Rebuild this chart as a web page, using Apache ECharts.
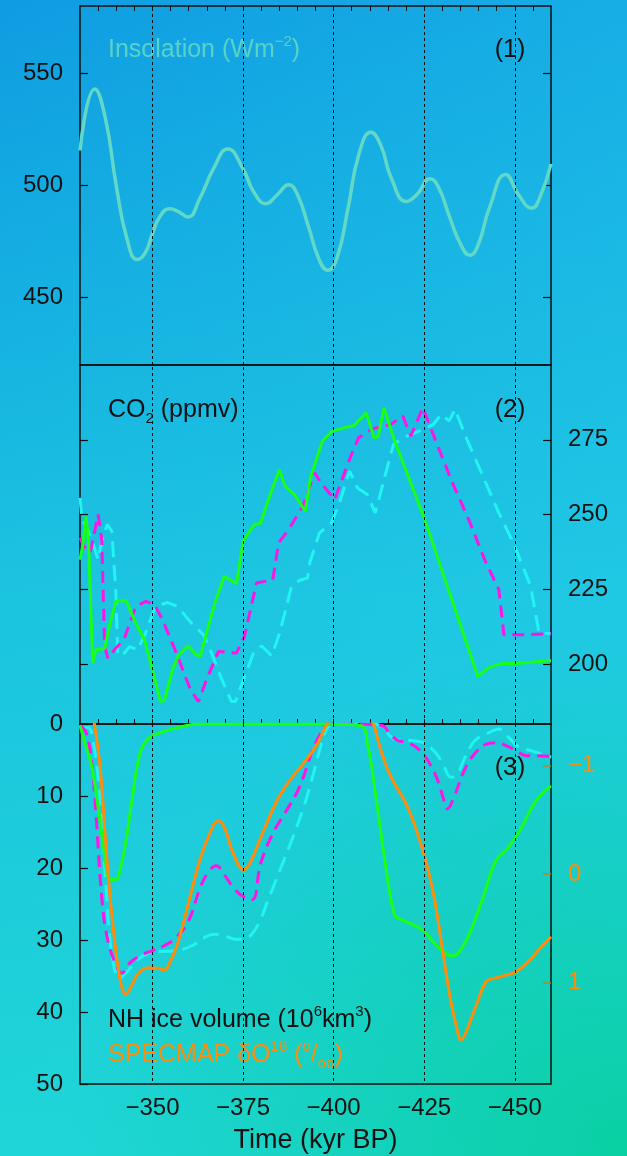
<!DOCTYPE html>
<html>
<head>
<meta charset="utf-8">
<script src="https://cdn.jsdelivr.net/npm/echarts@6/dist/echarts.min.js"></script>
<style>
html,body{margin:0;padding:0;width:627px;height:1156px;overflow:hidden;}
body{background:
 radial-gradient(ellipse 90% 45% at 100% 100%, rgba(8,208,160,0.95) 0%, rgba(8,208,160,0) 100%),
 linear-gradient(to right, rgba(40,210,235,0) 0%, rgba(40,210,235,0.33) 100%),
 linear-gradient(to bottom, #0f9ce2 0%, #1bc3e0 50%, #1fd6d6 100%);}
#c{width:627px;height:1156px;}
</style>
</head>
<body>
<div id="c"></div>
<script>
// ---- data (time in kyr BP, negative = past) ----
var timeTicksMinor = [-455,-450,-445,-440,-435,-430,-425,-420,-415,-410,-405,-400,-395,-390,-385,-380,-375,-370,-365,-360,-355,-350,-345,-340,-335];
var timeTicksMajor = [-450,-425,-400,-375,-350];
var insolTicks = [450,500,550];
var co2Ticks = [200,225,250,275];
var iceTicks = [0,10,20,30,40,50];
var d18Ticks = [-1,0,1];

var insolation = [[-330,515.6],[-334.1,543],[-337,530],[-340,500],[-343,476],[-345.8,467],[-348,470],[-350,478.5],[-352,486],[-354.8,489.6],[-357,488.5],[-359.8,486],[-363,494],[-367,508],[-370.8,516.3],[-375,507.4],[-378,497],[-381.3,491.9],[-384.5,496],[-387.6,500.3],[-390,496],[-393,482],[-396,467],[-398.4,462.2],[-401,468],[-404,490],[-407,514],[-410.3,523.7],[-413,518],[-416,503],[-420.1,492.9],[-423,496],[-426.6,503],[-429,499],[-432,486],[-435,474],[-437.6,468.9],[-440,474],[-443,490],[-447.5,504.9],[-451,496],[-454.7,489.9],[-457,495],[-460,509.6]];

var co2Green = [[-330,234.9],[-330.8,240],[-331.7,249.4],[-332.4,239.4],[-333.5,200.3],[-334.4,204.8],[-336.8,205.2],[-338.3,213.7],[-339.9,221],[-342.7,221.3],[-345.4,213.7],[-347.8,208.1],[-350,198.1],[-352.2,187.5],[-353.3,188],[-355.5,198],[-357.2,203.1],[-359.9,206.1],[-362.1,203.1],[-363.2,202.6],[-364.9,210.4],[-367.1,219.9],[-369.8,229.4],[-373.2,226.9],[-375,241.1],[-378.1,246.7],[-379.8,247],[-382,255],[-385,265],[-386.6,259.5],[-389.2,256.7],[-392.2,251.1],[-393.6,262.3],[-396.9,274.6],[-399.6,277.9],[-402.9,279],[-405.6,279.8],[-409,284],[-411.2,275.7],[-412.3,276],[-413.9,285.7],[-416.7,275.1],[-425,248.9],[-439.8,195.9],[-442.6,198.7],[-445.9,200.1],[-451.4,200.3],[-460,201.2]];

var co2Magenta = [[-330,242.2],[-331.1,239.4],[-332.8,237.2],[-333.5,241.1],[-335,250],[-336,241.6],[-336.8,205.9],[-337.7,202],[-339.9,205.4],[-342.1,208.1],[-345.4,219.3],[-348.2,221],[-350.6,219.9],[-352.8,214.8],[-356.6,203.7],[-360.5,191.4],[-362.7,187.5],[-364.9,194.8],[-368.2,204.2],[-373.2,203.7],[-375.4,209.3],[-378.7,227.1],[-383.2,228.2],[-384.8,240.5],[-387.6,245],[-391.5,252.8],[-394.8,264],[-396.5,260.6],[-400.3,255],[-404.2,267.9],[-406.9,275.7],[-410.8,278.7],[-415.7,280.1],[-419.1,282.9],[-421.3,276.2],[-424.6,285.7],[-428.4,274],[-432.8,260.6],[-437.3,248.3],[-441.7,234.9],[-445.6,224.9],[-447,209.8],[-451.6,209.8],[-460,210.2]];

var co2Cyan = [[-330,255.6],[-330.6,248.3],[-331.7,246.1],[-333.3,241.6],[-335,234.9],[-336,241.1],[-337.5,246.7],[-338.8,244.4],[-339.9,223.8],[-340.4,203.7],[-341.5,202.6],[-343.7,205.9],[-345.9,204.8],[-348.1,210.4],[-350.8,219.3],[-354.2,220.6],[-356.9,219.3],[-360.8,213.7],[-364.1,209.8],[-366.3,203.7],[-369,195.3],[-371.8,187.5],[-372.9,187.5],[-375.1,194.8],[-377.9,203.7],[-380.1,206.1],[-382.9,202.8],[-385.1,210.4],[-388.4,226.1],[-390.6,228],[-392.8,228.8],[-393.4,233.8],[-396.1,243.9],[-399.4,247.2],[-401.6,253.9],[-404.4,264.5],[-406.6,258.9],[-409.3,256.7],[-411.5,250.6],[-414.3,263.4],[-416.5,273.4],[-419.2,275.7],[-423.6,277.9],[-427.5,280.1],[-429.7,283.5],[-431.9,281.3],[-433.5,285.2],[-436.8,275.1],[-441.2,262.8],[-445.6,250.6],[-450,239.4],[-454.4,226],[-456.7,210.4],[-460,210.2]];

var iceGreen = [[-330,0.2],[-331.7,3.2],[-333.3,6],[-335,11.6],[-336.8,18.1],[-338.3,21.6],[-339.9,21.6],[-341,20.4],[-342.7,16.2],[-344.3,10.7],[-346.5,4.2],[-348.7,2.1],[-352.2,1.2],[-357.7,0.4],[-363.2,0],[-380,0],[-395,0],[-407.3,0.2],[-409.5,3.2],[-411.7,10.2],[-413.9,18.1],[-416.7,26.4],[-418.3,27.1],[-421.6,27.8],[-425,28.8],[-427.2,30.1],[-429.9,31.5],[-432.7,32.2],[-434.9,31.5],[-438.2,28.3],[-441.5,23.7],[-444.8,19],[-448.1,17.2],[-451.4,14.8],[-455.8,10.7],[-460,8.6]];

var iceMagenta = [[-330,0.2],[-331.7,1.2],[-333.3,5.6],[-334.4,12.5],[-336.1,24.6],[-337.7,30.1],[-339.9,33.4],[-341.5,34.6],[-343.7,33.2],[-346.5,32.2],[-349.8,31.5],[-353.2,30.8],[-356.4,29.7],[-359.9,27.4],[-363.2,22.7],[-365.4,20.6],[-367.6,19.7],[-369.8,20.9],[-372,22.5],[-374.8,23.9],[-377.6,24.4],[-379.8,19.5],[-383.1,15.3],[-386.4,12.5],[-389.7,9.7],[-391.9,7],[-394.1,3.7],[-396.3,1.4],[-398,0],[-405,0],[-413.4,0.2],[-415.6,1.4],[-417.8,2.3],[-420.6,2.6],[-423.9,3.7],[-426.6,5.6],[-428.8,7.9],[-430.5,10.7],[-431.4,11.8],[-433.2,10.2],[-436,6.5],[-438.8,4.2],[-442.1,2.8],[-444.8,2.6],[-447.6,3],[-450.4,3.7],[-453.1,4.4],[-456.4,4.4],[-460,4.5]];

var iceCyan = [[-330,0.5],[-332.2,0.5],[-333.9,3.2],[-335.5,10.2],[-337.2,22.7],[-338.8,32],[-341,35.3],[-343.2,34.3],[-346,32.7],[-349.3,31.8],[-352.1,31.6],[-356.4,31.5],[-360.9,30.8],[-364.2,29.7],[-366.9,29.2],[-369.7,29.4],[-373,29.9],[-375.2,29.9],[-377.4,29.2],[-379.6,27.4],[-381.8,24.6],[-385.1,20.4],[-388.4,16.2],[-391.7,11.6],[-393.9,7.9],[-396.1,3.7],[-398.3,0.5],[-400.5,0],[-411.5,0],[-413.7,0.7],[-417,2.1],[-421.4,2.3],[-424.7,2.6],[-428,3.9],[-430.2,5.6],[-432.4,7.4],[-434.1,7],[-436.3,4.6],[-439,2.3],[-442.9,1.2],[-445.6,0.7],[-448.4,1.9],[-451.1,3.2],[-454.4,3.7],[-457.7,4.2],[-460,4.6]];

var specmap = [[-333.4,-1.5],[-335.5,-1.005],[-337.2,-0.237],[-338.8,0.378],[-341,0.962],[-342.7,1.109],[-344.3,1.023],[-346.5,0.9],[-349.3,0.863],[-351.6,0.869],[-353.2,0.885],[-354.9,0.808],[-357.1,0.624],[-359.9,0.27],[-363.2,-0.144],[-366,-0.39],[-368,-0.492],[-369.8,-0.436],[-372.1,-0.206],[-375.2,-0.037],[-377.1,-0.114],[-379.8,-0.329],[-384.2,-0.667],[-387.6,-0.851],[-392,-1.035],[-395.3,-1.189],[-397.5,-1.342],[-398.8,-1.42],[-404.5,-1.75],[-410.5,-1.42],[-412.9,-1.158],[-415.6,-0.912],[-420.6,-0.605],[-425,-0.175],[-427.8,0.224],[-430,0.685],[-432.2,1.146],[-433.9,1.407],[-435.2,1.53],[-436.6,1.453],[-439.4,1.207],[-442.1,0.992],[-444.3,0.962],[-447.1,0.937],[-450.4,0.9],[-453.7,0.808],[-457,0.685],[-460,0.578]];

var vLines = [-350,-375,-400,-425,-450];

// ---- styling ----
var FONT = 'Liberation Sans, Arial, Helvetica, sans-serif';
var INK = '#111';
var ORANGE = '#ff8c0a';
function minus(v){ return String(v).replace('-', '\u2212'); }

var markLineV = {
  silent: true, symbol: ['none','none'], animation: false,
  label: {show:false}, emphasis: {disabled: true},
  lineStyle: {type: [3,3], color: INK, width: 1},
  data: vLines.map(function(v){ return {xAxis: v}; })
};

function xAx(g, pos, opts){
  var base = {
    gridIndex: g, type: 'value', min: -460, max: -330, inverse: true, position: pos,
    axisLine: {show:false}, splitLine: {show:false},
    axisTick: {show:false}, axisLabel: {show:false}
  };
  return Object.assign(base, opts || {});
}
function yAx(g, pos, min, max, ticks, showLabels, extra){
  var o = {
    gridIndex: g, type: 'value', min: min, max: max, position: pos,
    axisLine: {show:false}, splitLine: {show:false},
    axisTick: {show:true, inside:true, length:8, customValues: ticks, lineStyle:{color:INK, width:1.2}},
    axisLabel: {show: showLabels, customValues: ticks, fontSize: 24, fontFamily: FONT, color: INK, margin: 17,
                formatter: minus, showMinLabel: true, showMaxLabel: true}
  };
  return Object.assign(o, extra || {});
}

var gridBase = {left: 80, right: 76, show: true, borderColor: INK, borderWidth: 1.5, backgroundColor: 'transparent', containLabel: false};

var option = {
  animation: false,
  backgroundColor: 'transparent',
  grid: [
    Object.assign({top: 6, height: 359}, gridBase),
    Object.assign({top: 365, height: 359}, gridBase),
    Object.assign({top: 724, height: 360}, gridBase)
  ],
  xAxis: [
    xAx(0, 'top', {axisTick: {show:true, inside:true, length:5, customValues: timeTicksMinor, lineStyle:{color:INK, width:1}}}),
    xAx(1, 'bottom'),
    xAx(2, 'bottom', {
      axisTick: {show:true, inside:true, length:5, customValues: timeTicksMinor, lineStyle:{color:INK, width:1}},
      axisLabel: {show:true, customValues: timeTicksMajor, formatter: minus, fontSize: 24, fontFamily: FONT, color: INK, margin: 12},
      name: 'Time (kyr BP)', nameLocation: 'middle', nameGap: 43,
      nameTextStyle: {fontSize: 27, fontFamily: FONT, color: INK}
    })
  ],
  yAxis: [
    yAx(0, 'left', 420, 580, insolTicks, true),
    yAx(0, 'right', 420, 580, insolTicks, false),
    yAx(1, 'right', 180, 300, co2Ticks, true),
    yAx(1, 'left', 180, 300, co2Ticks, false),
    yAx(2, 'left', 0, 50, iceTicks, true, {inverse: true}),
    yAx(2, 'right', -1.384, 1.936, d18Ticks, true, {inverse: true,
      axisTick: {show:true, inside:true, length:8, customValues: d18Ticks, lineStyle:{color:'#b58424', width:1.5}},
      axisLabel: {show:true, customValues: d18Ticks, formatter: minus, fontSize: 24, fontFamily: FONT, color: ORANGE, margin: 17, showMinLabel:true, showMaxLabel:true}
    })
  ],
  series: [
    {type:'line', xAxisIndex:0, yAxisIndex:0, data: insolation, smooth: 0.5, showSymbol:false, silent:true,
     lineStyle:{color:'#62d8c6', width:3.5}, markLine: markLineV},
    {type:'line', xAxisIndex:1, yAxisIndex:2, data: co2Cyan, showSymbol:false, silent:true,
     lineStyle:{color:'#22f4f4', width:3, type:[16,8]}, markLine: markLineV},
    {type:'line', xAxisIndex:1, yAxisIndex:2, data: co2Magenta, showSymbol:false, silent:true,
     lineStyle:{color:'#ff14e6', width:3, type:[12,7]}},
    {type:'line', xAxisIndex:1, yAxisIndex:2, data: co2Green, showSymbol:false, silent:true,
     lineStyle:{color:'#18ff18', width:3}},
    {type:'line', xAxisIndex:2, yAxisIndex:4, data: iceCyan, smooth:0.4, showSymbol:false, silent:true,
     lineStyle:{color:'#22f4f4', width:3, type:[16,8]}, markLine: markLineV},
    {type:'line', xAxisIndex:2, yAxisIndex:4, data: iceMagenta, smooth:0.4, showSymbol:false, silent:true,
     lineStyle:{color:'#ff14e6', width:3, type:[12,7]}},
    {type:'line', xAxisIndex:2, yAxisIndex:4, data: iceGreen, smooth:0.4, showSymbol:false, silent:true,
     lineStyle:{color:'#18ff18', width:3}},
    {type:'line', xAxisIndex:2, yAxisIndex:5, data: specmap, smooth:0.4, showSymbol:false, silent:true,
     lineStyle:{color:ORANGE, width:3}}
  ],
  graphic: [
    {type:'text', x:108, y:50, silent:true, style:{
      text:'{a|Insolation (Wm}{s|\u22122}{a|)}', verticalAlign:'middle', align:'left',
      rich:{a:{fontSize:25, fontFamily:FONT, fill:'#5ad2c6', lineHeight:32}, s:{fontSize:15, fontFamily:FONT, fill:'#5ad2c6', verticalAlign:'top', lineHeight:15}}}},
    {type:'text', x:510, y:50, silent:true, style:{text:'(1)', font:'25px '+FONT, fill:INK, align:'center', verticalAlign:'middle'}},
    {type:'text', x:108, y:410, silent:true, style:{
      text:'{a|CO}{b|2}{a| (ppmv)}', verticalAlign:'middle', align:'left',
      rich:{a:{fontSize:25, fontFamily:FONT, fill:INK, lineHeight:32}, b:{fontSize:15, fontFamily:FONT, fill:INK, verticalAlign:'bottom', lineHeight:15}}}},
    {type:'text', x:510, y:410, silent:true, style:{text:'(2)', font:'25px '+FONT, fill:INK, align:'center', verticalAlign:'middle'}},
    {type:'text', x:510, y:768, silent:true, style:{text:'(3)', font:'25px '+FONT, fill:INK, align:'center', verticalAlign:'middle'}},
    {type:'text', x:108, y:1020, silent:true, style:{
      text:'{a|NH ice volume (10}{s|6}{a|km}{s|3}{a|)}', verticalAlign:'middle', align:'left',
      rich:{a:{fontSize:25, fontFamily:FONT, fill:INK, lineHeight:32}, s:{fontSize:15, fontFamily:FONT, fill:INK, verticalAlign:'top', lineHeight:15}}}},
    {type:'text', x:108, y:1055, silent:true, style:{
      text:'{a|SPECMAP \u03b4O}{s|18}{a| (}{s|o}{a|/}{b|oo}{a|)}', verticalAlign:'middle', align:'left',
      rich:{a:{fontSize:25, fontFamily:FONT, fill:ORANGE, lineHeight:32}, s:{fontSize:15, fontFamily:FONT, fill:ORANGE, verticalAlign:'top', lineHeight:15}, b:{fontSize:15, fontFamily:FONT, fill:ORANGE, verticalAlign:'bottom', lineHeight:15}}}}
  ]
};

var chart = echarts.init(document.getElementById('c'), null, {renderer:'canvas', width:627, height:1156});
chart.setOption(option);
</script>
</body>
</html>
